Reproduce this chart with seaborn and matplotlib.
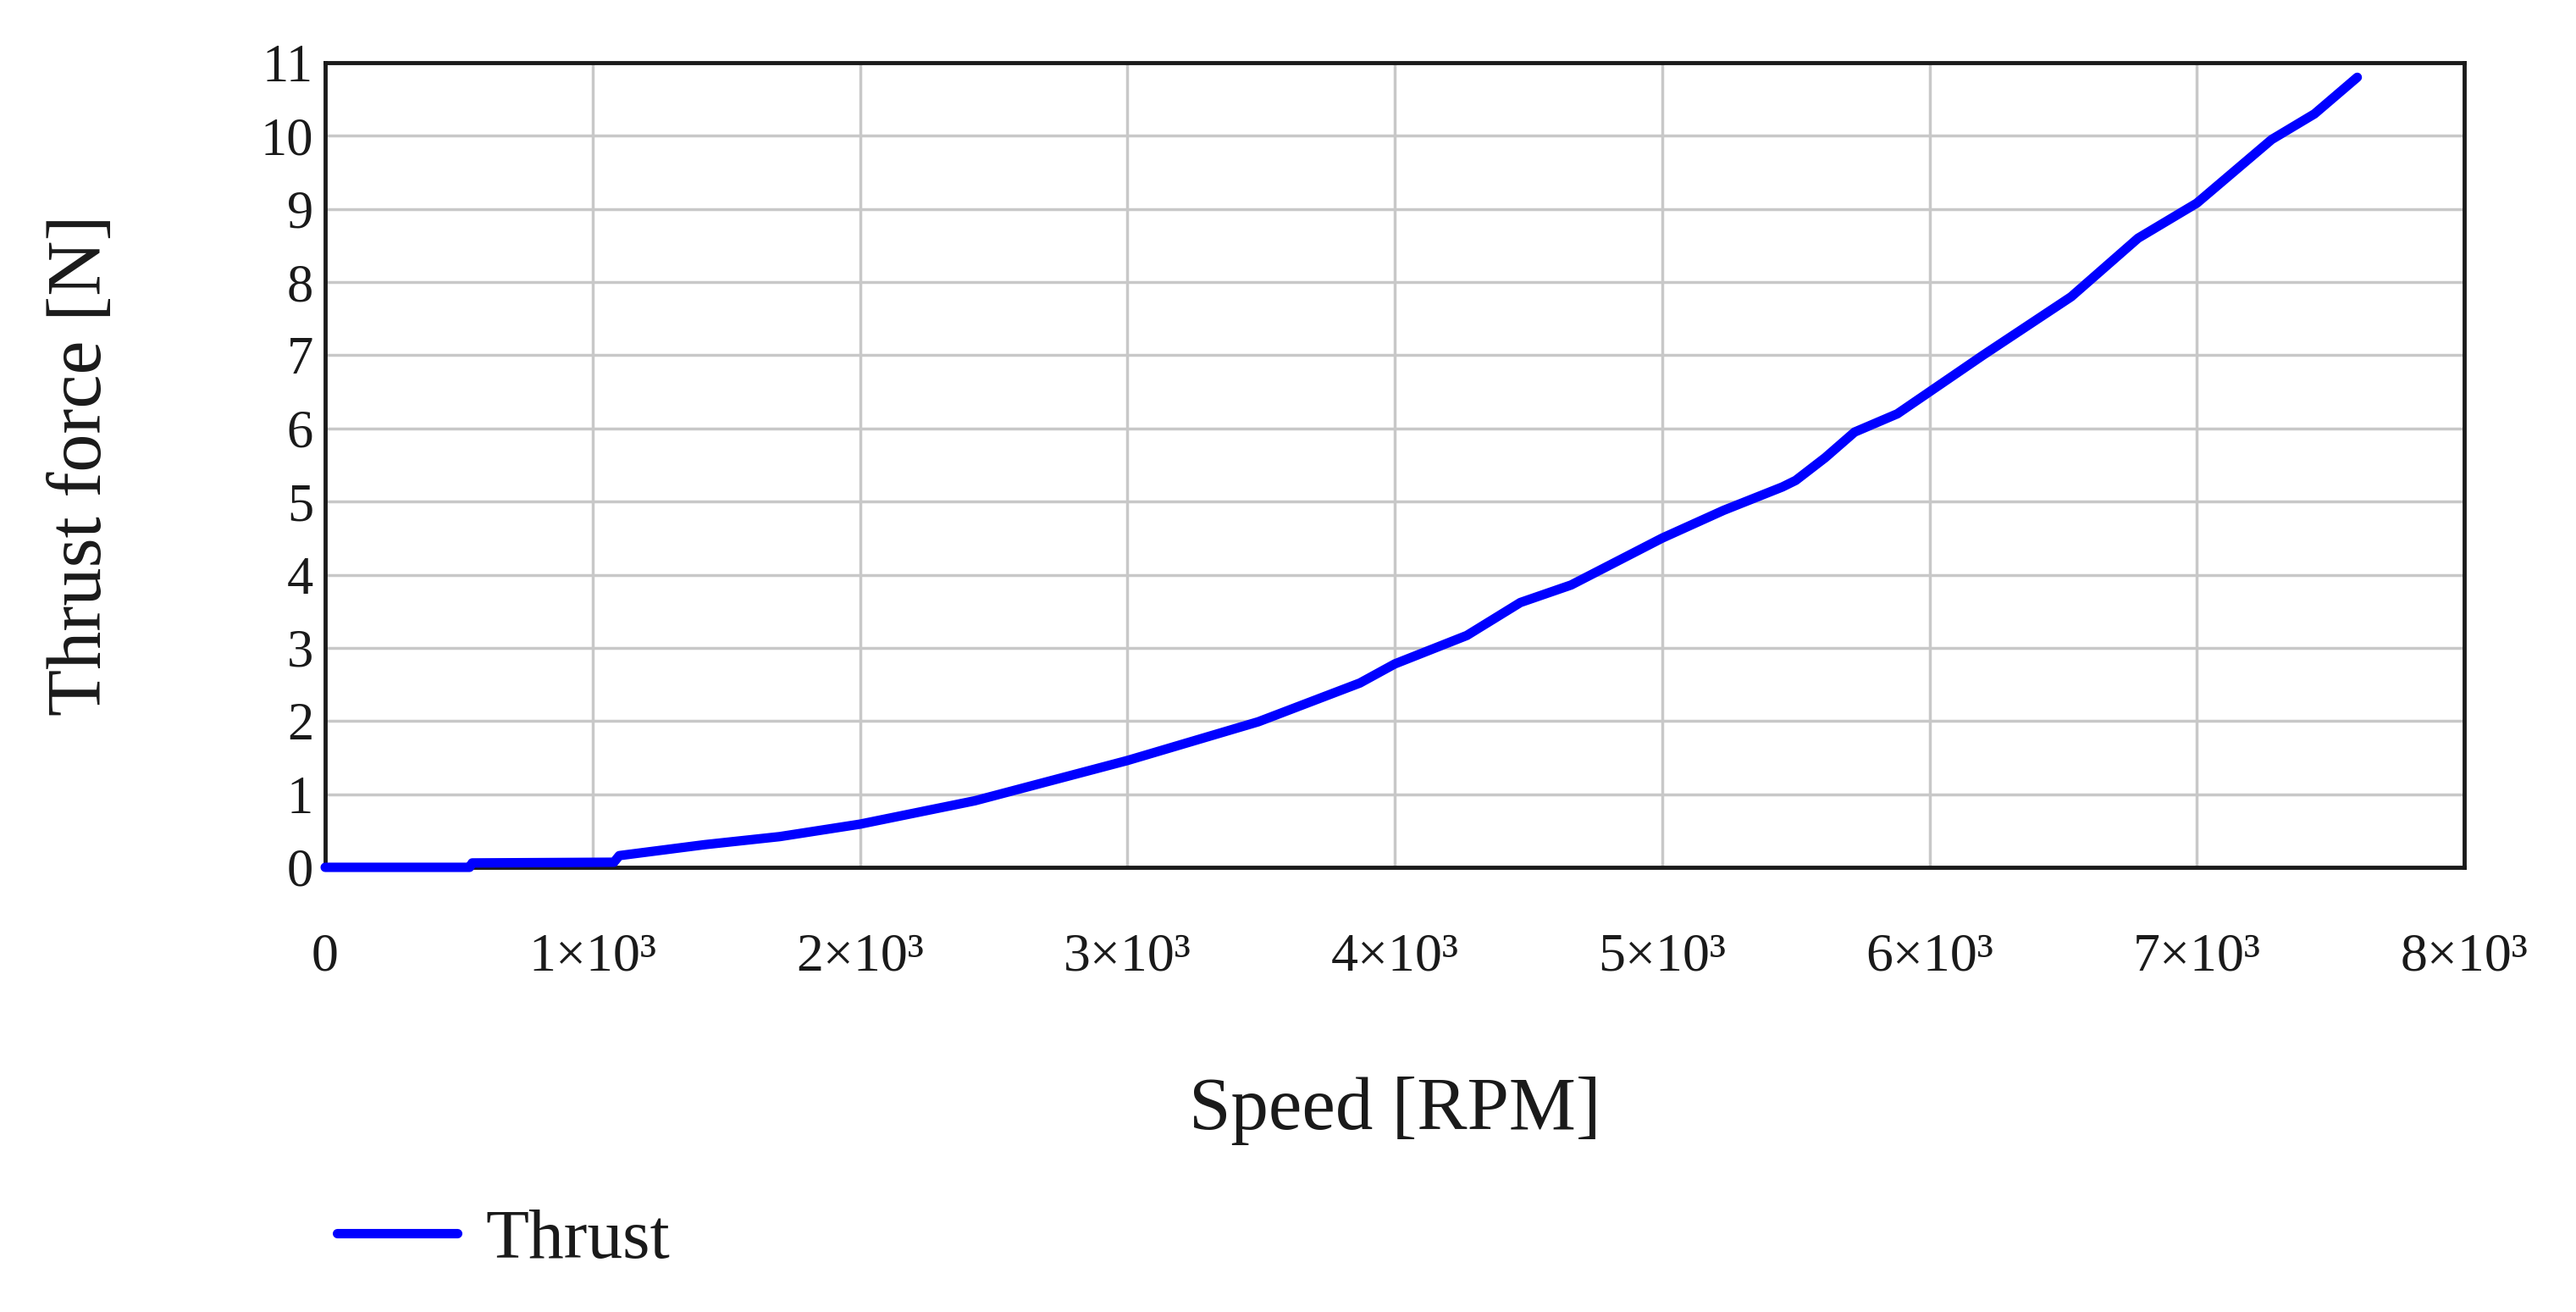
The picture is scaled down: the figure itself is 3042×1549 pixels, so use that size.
import matplotlib
matplotlib.use("Agg")
import matplotlib.pyplot as plt
import seaborn as sns
import pandas as pd

# ---- data ----
speed_rpm = [0, 540, 550, 1080, 1100, 1420, 1700, 2000, 2430, 3000, 3490, 3870,
             4000, 4270, 4470, 4660, 5000, 5230, 5450, 5500, 5610, 5720, 5880,
             6000, 6200, 6530, 6780, 7000, 7280, 7440, 7600]
thrust_n = [0, 0, 0.06, 0.07, 0.16, 0.31, 0.42, 0.59, 0.91, 1.46, 1.99, 2.52,
            2.78, 3.17, 3.62, 3.86, 4.50, 4.88, 5.20, 5.29, 5.60, 5.95, 6.20,
            6.50, 7.00, 7.80, 8.60, 9.08, 9.95, 10.30, 10.80]
x_ticks = [0, 1000, 2000, 3000, 4000, 5000, 6000, 7000, 8000]
x_tick_labels = ["0", "1×10³", "2×10³", "3×10³", "4×10³", "5×10³", "6×10³",
                 "7×10³", "8×10³"]
y_ticks = list(range(0, 12))
series_name = "Thrust"

df = pd.DataFrame({"Speed": speed_rpm, "Thrust": thrust_n})

sns.set_style("white")
plt.rcParams["font.family"] = ["Liberation Serif", "DejaVu Serif"]

W, H = 3042, 1549
fig = plt.figure(figsize=(W / 100, H / 100), dpi=100)
L, R, T, B = 384, 2910, 74, 1024
ax = fig.add_axes([L / W, 1 - B / H, (R - L) / W, (B - T) / H])

sns.lineplot(data=df, x="Speed", y="Thrust", ax=ax, color="#0000ff",
             linewidth=8, label=series_name, zorder=5, clip_on=False)

ax.set_xlim(0, 8000)
ax.set_ylim(0, 11)
ax.set_xticks(x_ticks)
ax.set_xticklabels(x_tick_labels)
ax.set_yticks(y_ticks)

ax.grid(True, color="#c8c8c8", linewidth=2.5)
ax.set_axisbelow(True)
for s in ax.spines.values():
    s.set_visible(True)
    s.set_color("#1a1a1a")
    s.set_linewidth(3.5)

ax.tick_params(axis="both", length=0, colors="#1a1a1a")
ax.tick_params(axis="y", pad=10, labelsize=45)
ax.tick_params(axis="x", pad=56, labelsize=46)

ax.set_xlabel("Speed [RPM]", fontsize=64, labelpad=80, color="#1a1a1a")
ax.set_ylabel("Thrust force [N]", fontsize=65, labelpad=122, color="#1a1a1a")

leg = ax.legend(loc="center left", bbox_to_anchor=(398 / W, 1 - 1465 / H),
                bbox_transform=fig.transFigure, frameon=False, fontsize=60,
                handlelength=1.7, handletextpad=0.4, borderpad=0,
                borderaxespad=0)
for t in leg.get_texts():
    t.set_color("#1a1a1a")

fig.savefig("out.png", dpi=100, facecolor="white")
